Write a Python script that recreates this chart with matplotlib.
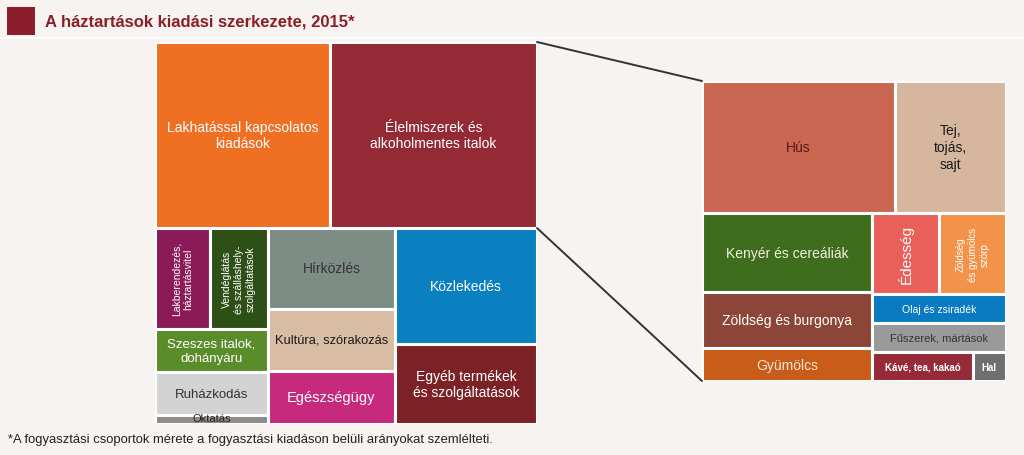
import matplotlib
matplotlib.use("Agg")
import matplotlib.pyplot as plt
from matplotlib.patches import Rectangle, ConnectionPatch

plt.rcParams['font.family'] = ['Liberation Sans', 'DejaVu Sans']

# fő csoportok (a fogyasztási kiadás %-a, a képről becsülve)
main_labels = ["Lakhatással kapcsolatos\nkiadások", "Élelmiszerek és\nalkoholmentes italok",
               "Lakberendezés,\nháztartásvitel", "Vendéglátás\nés szálláshely-\nszolgáltatások",
               "Szeszes italok,\ndohányáru", "Ruházkodás", "Oktatás",
               "Hírközlés", "Kultúra, szórakozás", "Egészségügy",
               "Közlekedés", "Egyéb termékek\nés szolgáltatások"]
main_values = [22.3, 26.4, 3.8, 4.0, 3.4, 3.3, 0.7, 7.0, 5.4, 4.6, 11.3, 7.8]
main_colors = ["#f07023", "#932a36", "#8b1a58", "#2e4f15", "#5b8c2a", "#d3d3d3", "#8c8c8c",
               "#7d8c85", "#d9bca4", "#c72a7c", "#0a80c0", "#7c2126"]
main_text = ["white", "white", "white", "white", "white", "#333333", "#222222",
             "#333333", "#1a1a1a", "white", "white", "white"]
main_size = [10, 10, 7.5, 7.5, 9.5, 9.5, 8, 10, 9.3, 10.5, 10, 10]
main_rot = [0, 0, 90, 90, 0, 0, 0, 0, 0, 0, 0, 0]

# élelmiszerek bontása (az élelmiszer-kiadás %-a)
food_labels = ["Hús", "Tej,\ntojás,\nsajt", "Kenyér és cereáliák", "Zöldség és burgonya", "Gyümölcs",
               "Édesség", "Zöldség\nés gyümölcs\nszörp", "Olaj és zsiradék", "Fűszerek, mártások",
               "Kávé, tea, kakaó", "Hal"]
food_values = [27.9, 16.1, 14.8, 10.5, 6.1, 5.95, 5.95, 4.25, 4.25, 3.15, 1.05]
food_colors = ["#c96753", "#d6b69f", "#3f6d1e", "#8c4637", "#c95c18", "#e9605a", "#f3934a",
               "#0a7bc0", "#999a9c", "#962a39", "#6f6f6f"]
food_text = ["#5a1a12", "#1a1a1a", "#f2f2dc", "white", "#f5e6d8", "white", "white",
             "white", "#333333", "white", "white"]
food_size = [10, 10, 10, 10, 10, 11, 7, 7.5, 8, 7, 7]
food_rot = [0, 0, 0, 0, 0, 90, 90, 0, 0, 0, 0]
food_bold = [False] * 9 + [True, True]

# elrendezés: 'v' = egymás alatt, 'h' = egymás mellett
main_tree = ('v', [('h', [0, 1]),
                   ('h', [('v', [('h', [2, 3]), 4, 5, 6]),
                          ('v', [7, 8, 9]),
                          ('v', [10, 11])])])
food_tree = ('v', [('h', [0, 1]),
                   ('h', [('v', [2, 3, 4]),
                          ('v', [('h', [5, 6]), 7, 8, ('h', [9, 10])])])])


def total(node, vals):
    if isinstance(node, int):
        return vals[node]
    return sum(total(c, vals) for c in node[1])


def layout(node, vals, x, y, w, h, out):
    if isinstance(node, int):
        out[node] = (x, y, w, h)
        return
    orient, kids = node
    s = total(node, vals)
    pos = 0.0
    for k in kids:
        f = total(k, vals) / s
        if orient == 'h':
            layout(k, vals, x + pos * w, y, w * f, h, out)
        else:
            layout(k, vals, x, y + pos * h, w, h * f, out)
        pos += f


def draw(ax, tree, vals, labels, colors, tcol, tsize, trot, bold=None):
    rects = {}
    layout(tree, vals, 0, 0, 1, 1, rects)
    for i, (x, y, w, h) in rects.items():
        ax.add_patch(Rectangle((x, y), w, h, facecolor=colors[i], edgecolor="white", lw=2.2))
        ty = y + h / 2
        if labels[i] == "Oktatás":
            ty = y + h * 0.3
        ax.text(x + w / 2, ty, labels[i], ha='center', va='center', color=tcol[i],
                fontsize=tsize[i], rotation=trot[i], linespacing=1.25,
                fontweight='bold' if (bold and bold[i]) else 'normal')
    ax.set_xlim(0, 1)
    ax.set_ylim(1, 0)
    ax.axis('off')
    return rects


fig = plt.figure(figsize=(10.24, 4.56), dpi=100)
fig.patch.set_facecolor("#f6f3f0")

# cím
fig.add_artist(Rectangle((7 / 1024, 1 - 36 / 456), 28 / 1024, 28 / 456,
                         transform=fig.transFigure, facecolor="#8b1e2a", edgecolor="none"))
fig.text(45 / 1024, 1 - 22 / 456, "A háztartások kiadási szerkezete, 2015*", color="#8b1e2a",
         fontsize=12, fontweight='bold', va='center', ha='left')
fig.add_artist(plt.Line2D([0, 1], [1 - 39 / 456] * 2, transform=fig.transFigure,
                          color="white", lw=1.2))

ax1 = fig.add_axes([155 / 1024, 31 / 456, 382 / 1024, 382 / 456])
ax2 = fig.add_axes([702 / 1024, 74 / 456, 304 / 1024, 300 / 456])

r = draw(ax1, main_tree, main_values, main_labels, main_colors, main_text, main_size, main_rot)
draw(ax2, food_tree, food_values, food_labels, food_colors, food_text, food_size, food_rot, food_bold)

# összekötő vonalak az élelmiszer-téglalaptól a részletező ábráig
fx, fy, fw, fh = r[1]
for yy, ty in [(fy, 0), (fy + fh, 1)]:
    con = ConnectionPatch(xyA=(fx + fw, yy), coordsA=ax1.transData,
                          xyB=(0, ty), coordsB=ax2.transData,
                          color="#333333", lw=1.4)
    fig.add_artist(con)

fig.text(8 / 1024, 1 - 440 / 456, "*A fogyasztási csoportok mérete a fogyasztási kiadáson belüli arányokat szemlélteti.",
         fontsize=9.4, color="#222222", va='center', ha='left')

fig.savefig("out.png", dpi=100, facecolor=fig.get_facecolor())
